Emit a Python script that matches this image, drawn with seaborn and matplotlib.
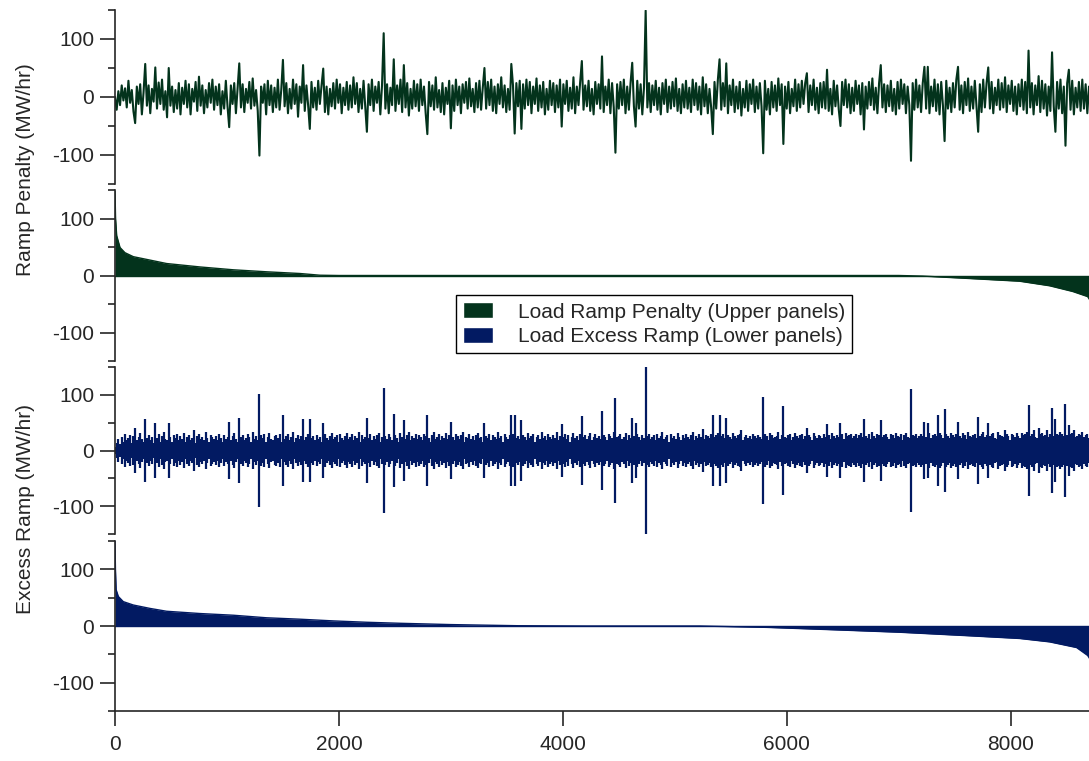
import numpy as np
import matplotlib
matplotlib.use("Agg")
import matplotlib.pyplot as plt
import seaborn as sns
from matplotlib.patches import Patch
from matplotlib.ticker import MultipleLocator

# hourly series, one value every 15 hours
step_hours = 15

load_ramp_penalty = [
    0, -22, 10, -14, 20, -6, 15, -18, 28, -10, 12, -25, -45, 18, -12, 22, -30, 8, 57, -15,
    20, -28, 14, -8, 51, -20, 25, -12, 30, -22, 10, -35, 50, -15, 18, -26, 12, -20, 24, -30,
    16, -12, 28, -18, 22, -30, 14, -8, 26, -24, 35, -15, 20, -28, 12, -18, 24, -10, 30, -22,
    18, -14, 22, -30, 10, -20, 28, -16, -52, 20, -12, 24, -28, 15, 58, -18, 22, -26, 14, -10,
    26, -20, 32, -15, 12, -24, -101, 18, -10, 22, -30, 28, -14, 20, -26, 16, -18, 30, -22, 12,
    64, -16, 24, -28, 14, -20, 30, -12, 22, -34, 18, -10, 55, -24, 20, -14, -55, 26, -18, 16,
    -22, 28, -12, 20, 49, -26, 18, -30, 14, -16, 24, -20, 30, -10, 22, -28, 16, -14, 26, -22,
    20, -18, 34, -12, 24, -26, 14, -20, 28, -16, -60, 22, -14, 30, -24, 18, -10, 26, -30, 20,
    110, -20, 22, -28, 16, -14, 65, -24, 20, -12, 30, -26, 55, -18, 24, -32, 14, -20, 28, -16,
    22, -24, 30, -14, 18, -28, -64, 26, -16, 20, -22, 34, -18, 12, -26, 24, -30, 16, -12, 28,
    -54, 20, -24, 30, -14, 18, -28, 22, -10, 26, -20, 32, -16, 14, -26, 24, -18, 28, -22, 16,
    50, -20, 26, -14, 30, -24, 18, -28, 22, -12, 34, -18, 20, -26, 14, -22, 57, 20, -63, 24,
    -16, 28, -55, 22, -20, 30, -14, 26, -28, 18, -12, 32, -24, 20, -18, 26, -30, 14, -22, 28,
    -14, 24, -26, 20, -18, 30, -51, 22, -12, 28, -24, 16, -20, 34, -28, 18, -14, 26, 62, -22,
    20, -16, 28, -24, 14, -30, 26, -12, 22, -20, 70, -26, 18, -14, 30, -28, 24, -18, -96, 22,
    -20, 26, -14, 30, -28, 18, -22, 24, 59, -16, -51, 28, -20, 22, -30, 16, 149, -18, 24, -26,
    20, -14, 28, -22, 16, -30, 24, -12, 30, -26, 18, -20, 26, -16, 32, -24, 14, -28, 22, -18,
    28, -20, 16, -26, 30, -14, 24, -22, 18, -30, 34, -16, 22, -28, 14, -18, -64, 26, -20, 30,
    65, -22, 24, -16, 58, -28, 20, -14, 30, -26, 18, -20, 26, -32, 14, -18, 28, -24, 22, -12,
    30, -26, 18, -20, 24, -16, -97, 28, -22, 14, -30, 26, -18, 20, -24, 32, -14, 22, -81, 18,
    -20, 26, -28, 14, -16, 30, -24, 22, -18, 28, -12, 24, 41, -26, 20, -14, 30, -22, 16, -28,
    24, -18, 26, -20, 47, -24, 14, -30, 28, -16, 20, -22, -50, 26, -14, 30, -18, 22, -28, 16,
    -24, 28, -12, 20, -30, 24, -56, 18, -20, 26, -14, 32, -22, 16, -28, 24, 55, -18, 22, -26,
    20, -16, 28, -24, 14, -30, 26, -20, 30, -12, 22, -28, 18, -14, -110, 24, -22, 30, -18, 20,
    -26, 24, 52, -20, 52, -28, 18, -16, 30, -24, 22, -30, 26, -14, -76, 28, -20, 16, -26, 24,
    -18, 30, 52, -22, 20, -28, 26, -14, 32, -24, 18, -20, 28, -16, -60, 22, -26, 30, -18, 24,
    51, -20, 26, -28, 16, -14, 30, -22, 24, -18, 34, -26, 20, -12, 28, -24, 18, -30, 22, -16,
    30, -22, 26, -28, 80, -18, 24, -30, 20, -14, 36, -26, 28, -20, 22, -32, 18, -24, 77, -16,
    -60, 26, -20, 30, -28, 18, -84, 24, 47, -22, 28, -30, 16, -18, 26, -24, 30, -20, 22, -28,
    18, -22, 26, -16,
]

# excess ramp swings both ways about zero, so its size is kept
load_excess_ramp = [
    6, 14, 20, 12, 24, 16, 30, 18, 22, 28, 14, 26, 40, 18, 24, 32, 20, 16, 57, 22,
    28, 18, 24, 14, 50, 22, 30, 16, 26, 34, 20, 18, 50, 24, 16, 28, 22, 30, 18, 26,
    20, 32, 16, 24, 28, 18, 22, 36, 14, 26, 30, 20, 24, 18, 34, 22, 16, 28, 24, 20,
    26, 18, 30, 22, 16, 28, 20, 24, 52, 18, 26, 32, 20, 16, 58, 24, 28, 18, 22, 30,
    24, 16, 34, 20, 26, 18, 102, 28, 22, 30, 16, 24, 32, 20, 18, 26, 28, 22, 30, 16,
    63, 20, 26, 30, 18, 24, 34, 16, 22, 28, 20, 26, 56, 18, 24, 30, 56, 22, 26, 18,
    28, 20, 24, 16, 49, 30, 22, 18, 26, 32, 20, 24, 28, 16, 30, 22, 18, 26, 32, 20,
    24, 30, 18, 26, 22, 34, 16, 28, 20, 24, 59, 22, 30, 18, 26, 20, 28, 32, 16, 24,
    112, 26, 20, 30, 24, 18, 65, 28, 22, 16, 32, 24, 55, 20, 28, 34, 18, 26, 22, 30,
    20, 28, 24, 18, 30, 26, 63, 22, 16, 28, 34, 20, 24, 30, 18, 26, 22, 32, 20, 28,
    51, 24, 18, 30, 26, 20, 28, 34, 16, 24, 22, 30, 20, 26, 18, 28, 32, 22, 24, 16,
    50, 26, 22, 30, 18, 28, 24, 20, 34, 22, 26, 16, 30, 24, 20, 28, 64, 30, 63, 22,
    26, 20, 54, 28, 24, 18, 32, 22, 26, 30, 16, 24, 28, 20, 34, 22, 26, 18, 30, 24,
    20, 28, 22, 34, 18, 26, 48, 24, 30, 20, 28, 16, 24, 32, 22, 26, 18, 30, 62, 24,
    28, 20, 26, 32, 18, 24, 30, 22, 26, 20, 71, 28, 24, 18, 30, 26, 22, 34, 95, 24,
    26, 30, 20, 24, 32, 18, 28, 22, 59, 26, 50, 30, 24, 18, 28, 22, 151, 26, 30, 20,
    24, 28, 18, 30, 22, 26, 34, 20, 24, 28, 16, 30, 22, 26, 20, 32, 24, 18, 28, 22,
    30, 24, 20, 28, 34, 18, 26, 22, 30, 24, 38, 20, 28, 26, 22, 30, 63, 24, 28, 32,
    63, 26, 30, 22, 58, 28, 24, 20, 32, 26, 22, 28, 30, 36, 18, 24, 28, 22, 26, 20,
    30, 26, 22, 28, 24, 20, 96, 30, 26, 18, 32, 28, 22, 24, 26, 34, 20, 28, 80, 24,
    22, 28, 30, 18, 24, 32, 26, 22, 28, 30, 20, 26, 40, 28, 24, 18, 32, 26, 22, 28,
    26, 22, 30, 24, 47, 28, 20, 32, 26, 22, 28, 24, 50, 30, 20, 32, 26, 28, 30, 22,
    26, 30, 22, 28, 32, 24, 56, 26, 22, 30, 20, 34, 26, 22, 30, 28, 55, 24, 28, 30,
    24, 20, 30, 28, 22, 32, 26, 24, 30, 18, 28, 32, 24, 22, 110, 28, 26, 30, 22, 26,
    30, 26, 52, 24, 50, 32, 22, 28, 30, 26, 63, 32, 28, 22, 75, 30, 26, 22, 32, 28,
    24, 30, 52, 26, 22, 32, 28, 20, 34, 26, 24, 28, 30, 22, 60, 26, 30, 34, 24, 28,
    50, 26, 30, 32, 22, 20, 34, 28, 26, 24, 36, 30, 26, 18, 30, 28, 24, 32, 26, 22,
    32, 28, 30, 34, 81, 26, 30, 36, 24, 22, 40, 30, 32, 26, 28, 36, 24, 30, 77, 26,
    56, 30, 28, 34, 30, 26, 83, 28, 46, 30, 32, 36, 24, 26, 30, 28, 34, 24, 28, 30,
    22, 26, 30, 24,
]

# sorted (duration curve) panels
penalty_sorted_hours = [0, 5, 15, 45, 89, 164, 313, 461, 759, 1057, 1354, 1652,
                        1830, 2000, 7000, 7214, 7607, 8080, 8348, 8554, 8688, 8730, 8760]
penalty_sorted = [148, 100, 70, 49, 40, 33, 27, 21, 15, 10, 6.5, 3.5,
                  0.5, 0, 0, -1, -5, -10, -18, -28, -37, -50, -110]

excess_sorted_hours = [0, 4, 10, 30, 74, 164, 313, 461, 759, 1057, 1354, 1652, 1949,
                       2247, 2545, 3000, 3600, 4200, 5223, 5821, 6411, 7009, 7607,
                       8080, 8348, 8589, 8688, 8730, 8760]
excess_sorted = [150, 100, 64, 52, 43, 37, 31, 26, 22, 19, 14.5, 12, 9,
                 6.6, 4.8, 2.5, 0.5, 0, 0, -2.4, -6.6, -11, -17,
                 -22, -28, -38, -52, -65, -152]

green = "#03331c"
navy = "#021a62"

sns.set_style("ticks")
plt.rcParams['font.family'] = ['Liberation Sans', 'DejaVu Sans']
plt.rcParams['axes.unicode_minus'] = False

fig = plt.figure(figsize=(10.89, 7.61), dpi=100)
W, H = 1089, 761
left = 115 / W
panel_px = [(10, 184), (190, 361), (367, 534), (541, 711)]
axes = []
for top, bot in panel_px:
    ax = fig.add_axes([left, 1 - bot / H, 1 - left, (bot - top) / H])
    axes.append(ax)

hours_p = np.arange(len(load_ramp_penalty)) * step_hours
hours_e = np.arange(len(load_excess_ramp)) * step_hours
exc = np.array(load_excess_ramp)

sns.lineplot(x=hours_p, y=load_ramp_penalty, ax=axes[0], color=green, lw=1.5)

axes[1].fill_between(penalty_sorted_hours, penalty_sorted, 0, color=green, lw=0)
sns.lineplot(x=penalty_sorted_hours, y=penalty_sorted, ax=axes[1], color=green, lw=1)
axes[1].axhline(0, color=green, lw=1)

axes[2].vlines(hours_e, -exc, exc, color=navy, lw=1.6)

axes[3].fill_between(excess_sorted_hours, excess_sorted, 0, color=navy, lw=0)
sns.lineplot(x=excess_sorted_hours, y=excess_sorted, ax=axes[3], color=navy, lw=1)
axes[3].axhline(0, color=navy, lw=1)

for i, ax in enumerate(axes):
    ax.set_xlim(0, 8700)
    ax.set_ylim(-150, 150)
    ax.set_yticks([-100, 0, 100])
    ax.yaxis.set_minor_locator(MultipleLocator(50))
    ax.tick_params(axis='y', which='major', length=11, width=1.2, labelsize=15, pad=4)
    ax.tick_params(axis='y', which='minor', length=5, width=1.2)
    ax.spines['top'].set_visible(False)
    ax.spines['right'].set_visible(False)
    ax.spines['left'].set_linewidth(1.2)
    ax.set_xlabel('')
    ax.set_ylabel('')
    ax.patch.set_alpha(0)
    if i < 3:
        ax.spines['bottom'].set_visible(False)
        ax.tick_params(axis='x', bottom=False, labelbottom=False)
    else:
        ax.spines['bottom'].set_linewidth(1.2)
        ax.set_xticks([0, 2000, 4000, 6000, 8000])
        ax.tick_params(axis='x', length=11, width=1.2, labelsize=15, pad=6)

fig.text(0.023, 0.777, 'Ramp Penalty (MW/hr)', rotation=90, va='center', ha='center', fontsize=15)
fig.text(0.023, 0.331, 'Excess Ramp (MW/hr)', rotation=90, va='center', ha='center', fontsize=15)

handles = [Patch(facecolor=green, label='Load Ramp Penalty (Upper panels)'),
           Patch(facecolor=navy, label='Load Excess Ramp (Lower panels)')]
leg = fig.legend(handles=handles, loc='center', bbox_to_anchor=(0.6006, 0.574),
                 fontsize=15, frameon=True, fancybox=False, edgecolor='black', framealpha=1,
                 handlelength=1.4, handleheight=0.8, borderpad=0.35, labelspacing=0.25,
                 handletextpad=1.2)
leg.get_frame().set_linewidth(1.0)

fig.savefig('out.png', dpi=100)
